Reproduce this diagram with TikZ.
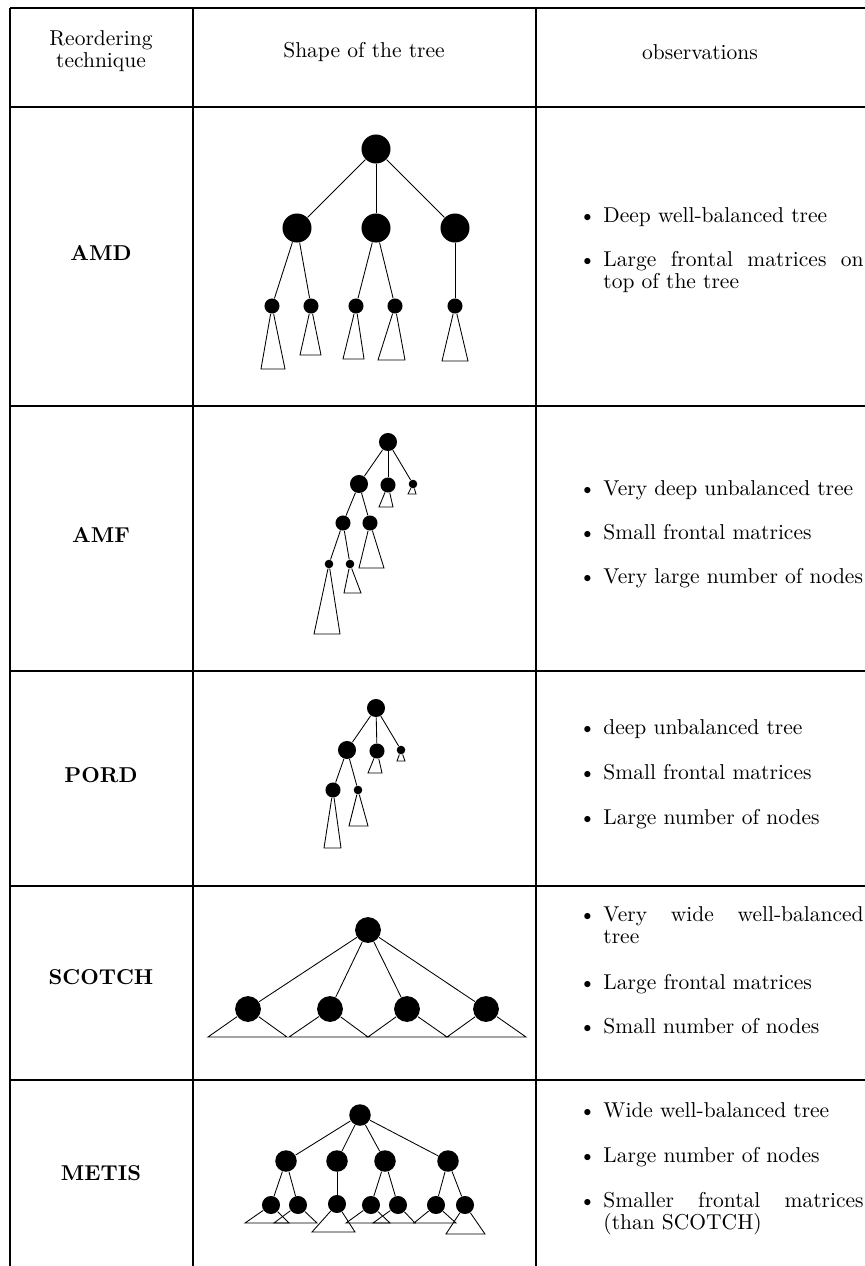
\documentclass[tikz,border=0pt]{standalone}
\usepackage{tikz}
\tolerance=9999
\hyphenpenalty=10000

\begin{document}
\begin{tikzpicture}[x=0.465pt, y=-0.465pt, font=\fontsize{10}{10.3}\selectfont,
    dot/.style={circle, fill, inner sep=0pt},
    d14/.style={dot, minimum size=13.5pt},
    d12/.style={dot, minimum size=12pt},
    d10/.style={dot, minimum size=10pt},
    d8/.style={dot, minimum size=8.4pt},
    d7/.style={dot, minimum size=7pt},
    d4/.style={dot, minimum size=4pt},
    obs/.style={anchor=base west, inner sep=0pt,
        execute at begin node={\leavevmode\llap{\textbullet\hspace{3.5pt}}}},
    wrap/.style={text width=121pt, align=justify},
    grid/.style={line width=0.8pt}]
    \useasboundingbox (0,0) rectangle (865,1266);

    % Table
    \foreach \y in {8,107,406,671,886,1080}
        \draw[grid] (10,\y) -- (865,\y);
    \foreach \x in {10,193,536}
        \draw[grid] (\x,8) -- (\x,1266);

    % Header
    \node(H1) at (101,51) [align=center] {Reordering\\technique};
    \node(H2) at (364,52) {Shape of the tree};
    \node(H3) at (700,52) {observations};

    % Techniques
    \node(T1) at (101,253) {\textbf{AMD}};
    \node(T2) at (101,535) {\textbf{AMF}};
    \node(T3) at (101,775) {\textbf{PORD}};
    \node(T4) at (101,977) {\textbf{SCOTCH}};
    \node(T5) at (101,1173) {\textbf{METIS}};

    % AMD tree
    \node[d14](A0) at (376,149) {};
    \node[d14](A1) at (297,228) {};
    \node[d14](A2) at (376,228) {};
    \node[d14](A3) at (455,228) {};
    \node[d7](A4) at (272,306) {};
    \node[d7](A5) at (311,306) {};
    \node[d7](A6) at (356,306) {};
    \node[d7](A7) at (395,306) {};
    \node[d7](A8) at (455,306) {};
    \draw (A0) -- (A1);
    \draw (A0) -- (A2);
    \draw (A0) -- (A3);
    \draw (A1) -- (A4);
    \draw (A1) -- (A5);
    \draw (A2) -- (A6);
    \draw (A2) -- (A7);
    \draw (A3) -- (A8);
    \draw (A4) -- (261,369) -- (285,369) -- (A4);
    \draw (A5) -- (300,355) -- (321,355) -- (A5);
    \draw (A6) -- (343,359) -- (364,359) -- (A6);
    \draw (A7) -- (378,360) -- (405,360) -- (A7);
    \draw (A8) -- (442,361) -- (468,361) -- (A8);

    % AMF tree
    \node[d8](B0) at (388,442) {};
    \node[d8](B1) at (359,484) {};
    \node[d7](B2) at (388,485) {};
    \node[d4](B3) at (413,484) {};
    \node[d7](B4) at (343,523) {};
    \node[d7](B5) at (370,523) {};
    \node[d4](B6) at (329,564) {};
    \node[d4](B7) at (350,564) {};
    \draw (B0) -- (B1);
    \draw (B0) -- (B2);
    \draw (B0) -- (B3);
    \draw (B1) -- (B4);
    \draw (B1) -- (B5);
    \draw (B4) -- (B6);
    \draw (B4) -- (B7);
    \draw (B2) -- (379,507) -- (393,507) -- (B2);
    \draw (B3) -- (408,494) -- (416,494) -- (B3);
    \draw (B5) -- (359,568) -- (384,568) -- (B5);
    \draw (B6) -- (314,634) -- (340,634) -- (B6);
    \draw (B7) -- (344,593) -- (361,593) -- (B7);

    % PORD tree
    \node[d8](C0) at (376,708) {};
    \node[d8](C1) at (347,750) {};
    \node[d7](C2) at (377,751) {};
    \node[d4](C3) at (401,750) {};
    \node[d7](C4) at (333,790) {};
    \node[d4](C5) at (358,790) {};
    \draw (C0) -- (C1);
    \draw (C0) -- (C2);
    \draw (C0) -- (C3);
    \draw (C1) -- (C4);
    \draw (C1) -- (C5);
    \draw (C2) -- (368,773) -- (382,773) -- (C2);
    \draw (C3) -- (397,761) -- (405,761) -- (C3);
    \draw (C4) -- (324,848) -- (341,848) -- (C4);
    \draw (C5) -- (349,826) -- (368,826) -- (C5);

    % SCOTCH tree
    \node[d12](D0) at (368,930) {};
    \node[d12](D1) at (248,1009) {};
    \node[d12](D2) at (330,1009) {};
    \node[d12](D3) at (407,1009) {};
    \node[d12](D4) at (486,1009) {};
    \draw (D0) -- (D1);
    \draw (D0) -- (D2);
    \draw (D0) -- (D3);
    \draw (D0) -- (D4);
    \draw (D1) -- (208,1037) -- (287,1037) -- (D1);
    \draw (D2) -- (289,1037) -- (368,1037) -- (D2);
    \draw (D3) -- (368,1037) -- (447,1037) -- (D3);
    \draw (D4) -- (447,1037) -- (526,1037) -- (D4);

    % METIS tree
    \node[d10](E0) at (360,1115) {};
    \node[d10](E1) at (286,1161) {};
    \node[d10](E2) at (337,1161) {};
    \node[d10](E3) at (385,1161) {};
    \node[d10](E4) at (448,1161) {};
    \node[d8](E5) at (271,1205) {};
    \node[d8](E6) at (298,1205) {};
    \node[d8](E7) at (337,1204) {};
    \node[d8](E8) at (371,1205) {};
    \node[d8](E9) at (398,1205) {};
    \node[d8](E10) at (436,1205) {};
    \node[d8](E11) at (465,1205) {};
    \draw (E0) -- (E1);
    \draw (E0) -- (E2);
    \draw (E0) -- (E3);
    \draw (E0) -- (E4);
    \draw (E1) -- (E5);
    \draw (E1) -- (E6);
    \draw (E2) -- (E7);
    \draw (E3) -- (E8);
    \draw (E3) -- (E9);
    \draw (E4) -- (E10);
    \draw (E4) -- (E11);
    \draw (E5) -- (245,1223) -- (289,1223) -- (E5);
    \draw (E6) -- (274,1223) -- (317,1223) -- (E6);
    \draw (E7) -- (312,1232) -- (355,1232) -- (E7);
    \draw (E8) -- (346,1223) -- (390,1223) -- (E8);
    \draw (E9) -- (373,1223) -- (415,1223) -- (E9);
    \draw (E10) -- (414,1223) -- (456,1223) -- (E10);
    \draw (E11) -- (446,1234) -- (485,1234) -- (E11);

    % Observations
    \node[obs](O1) at (603,222) {Deep well-balanced tree};
    \node[obs,wrap](O2) at (603,266) {Large frontal matrices on top of the tree};
    \node[obs](O3) at (603,495) {Very deep unbalanced tree};
    \node[obs](O4) at (603,539) {Small frontal matrices};
    \node[obs](O5) at (603,583) {Very large number of nodes};
    \node[obs](O6) at (603,734) {deep unbalanced tree};
    \node[obs](O7) at (603,779) {Small frontal matrices};
    \node[obs](O8) at (603,824) {Large number of nodes};
    \node[obs,wrap](O9) at (603,921) {Very wide well-balanced tree};
    \node[obs](O10) at (603,989) {Large frontal matrices};
    \node[obs](O11) at (603,1033) {Small number of nodes};
    \node[obs](O12) at (603,1117) {Wide well-balanced tree};
    \node[obs](O13) at (603,1162) {Large number of nodes};
    \node[obs,wrap](O14) at (603,1207) {Smaller frontal matrices (than SCOTCH)};
\end{tikzpicture}
\end{document}
